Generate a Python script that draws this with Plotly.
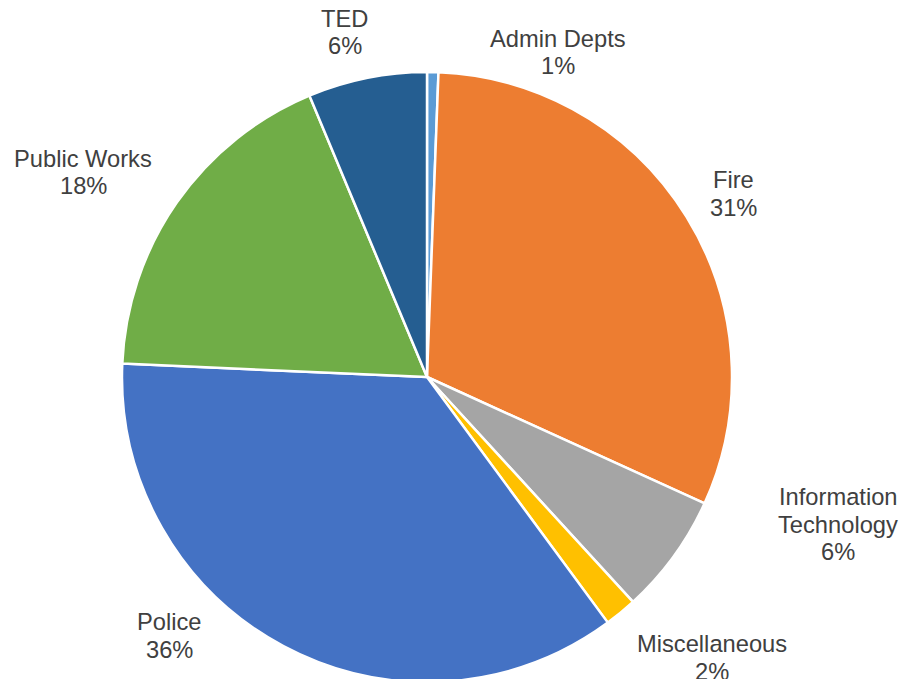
import plotly.graph_objects as go

# Budget share by department (percent of total)
departments = ["Admin Depts", "Fire", "Information Technology", "Miscellaneous",
               "Police", "Public Works", "TED"]
shares = [0.6, 31.2, 6.4, 1.7, 35.8, 18.0, 6.3]
slice_colors = ["#5B9BD5", "#ED7D31", "#A5A5A5", "#FFC000",
                "#4472C4", "#70AD47", "#255E91"]

# How each department name is broken across lines in its label
label_lines = {
    "Information Technology": ["Information", "Technology"],
}

W, H = 903, 690
# Pie placement in pixels: centre and radius
CX, CY, R = 427, 377, 305
# Centre of the first text line of each label, in pixels
label_pos = {
    "Admin Depts": (557.5, 38.5),
    "Fire": (733, 180),
    "Information Technology": (838, 497),
    "Miscellaneous": (712, 644),
    "Police": (169.5, 622),
    "Public Works": (83, 158.7),
    "TED": (344.5, 18.7),
}
LINE_STEP = 27.5
TEXT_COLOR = "#404040"
FONT = "Liberation Sans, Arial, sans-serif"
FONT_SIZE = 23.7

fig = go.Figure(go.Pie(
    labels=departments,
    values=shares,
    sort=False,
    direction="clockwise",
    rotation=0,
    textinfo="none",
    hoverinfo="label+percent",
    marker=dict(colors=slice_colors, line=dict(color="white", width=2.5)),
    domain=dict(x=[(CX - R) / W, (CX + R) / W],
                y=[1 - (CY + R) / H, 1 - (CY - R) / H]),
    showlegend=False,
))

total = sum(shares)
annotations = []
for name, val in zip(departments, shares):
    lines = label_lines.get(name, [name]) + [f"{round(val / total * 100)}%"]
    x0, y0 = label_pos[name]
    for i, line in enumerate(lines):
        annotations.append(dict(
            text=line, xref="paper", yref="paper",
            x=x0 / W, y=1 - (y0 + i * LINE_STEP) / H,
            xanchor="center", yanchor="middle", showarrow=False,
            font=dict(family=FONT, size=FONT_SIZE, color=TEXT_COLOR),
        ))

fig.update_layout(
    width=W, height=H,
    margin=dict(l=0, r=0, t=0, b=0),
    paper_bgcolor="white",
    plot_bgcolor="white",
    annotations=annotations,
)

fig.write_html(
    "out.html",
    post_script="document.documentElement.style.overflow='hidden';"
                "document.body.style.overflow='hidden';",
)
